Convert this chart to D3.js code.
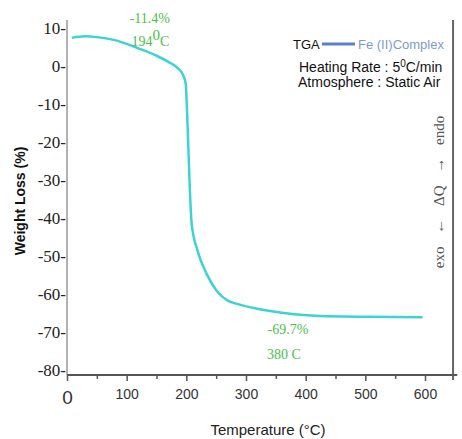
<!DOCTYPE html>
<html>
<head>
<meta charset="utf-8">
<script src="https://cdn.jsdelivr.net/npm/d3@7"></script>
<style>
body { margin: 0; background: #fff; }
svg { display: block; }
</style>
</head>
<body>
<div id="chart"></div>
<script>
// TGA curve of the Fe(II) complex
var temps   = [8, 30, 50, 80, 122, 150, 172, 186, 194, 199, 201, 203, 206, 209, 219, 234, 251, 270, 285, 340, 424, 500, 596];
var weights = [7.4, 7.8, 7.6, 6.8, 4.5, 2.7, 0.9, -0.6, -2.2, -4.7, -11.1, -19.7, -32.9, -41.6, -48.7, -54.7, -59.2, -61.8, -62.6, -64.5, -65.8, -66.0, -66.1];

var xTicks = [0, 100, 200, 300, 400, 500, 600];
var yTicks = [10, 0, -10, -20, -30, -40, -50, -60, -70, -80];
var notes = ["-11.4%", "194", "-69.7%", "380  C"];
var legendLines = ["Heating Rate : 5", "C/min", "Atmosphere : Static Air"];

var size = {w: 462, h: 439};
var curveColor = "#3ed3d3";
var green = "#4dbd4d";

var svg = d3.select("#chart")
	.append("svg")
	.attr("width", size.w)
	.attr("height", size.h);

var x = d3.scaleLinear().domain([0, 600]).range([67, 425]);
var y = d3.scaleLinear().domain([-80, 10]).range([370, 28]);

// frame lines
svg.append("line")
	.attr("x1", x(0)).attr("x2", x(0))
	.attr("y1", y(12.1)).attr("y2", y(-81.3))
	.attr("stroke", "#999").attr("stroke-width", 1.5);

svg.append("line")
	.attr("x1", x(647)).attr("x2", x(647))
	.attr("y1", y(12.1)).attr("y2", y(-82.6))
	.attr("stroke", "#666").attr("stroke-width", 2);

// y axis, labels carry their own dash
var yAxis = svg.append("g")
	.attr("transform", "translate(" + x(0) + ",0)")
	.call(d3.axisLeft(y).tickValues(yTicks).tickSize(0).tickPadding(1).tickFormat(function(d) { return d + "-"; }));
yAxis.select(".domain").remove();
yAxis.selectAll("text")
	.attr("font-family", "Liberation Serif, Times New Roman, serif")
	.attr("font-size", 17)
	.attr("fill", "#222");

// x axis
var xAxis = svg.append("g")
	.attr("transform", "translate(0," + y(-81.3) + ")")
	.call(d3.axisBottom(x).tickValues(d3.range(0, 650, 50)).tickSize(6).tickPadding(6)
		.tickFormat(function(d) { return xTicks.indexOf(d) >= 0 ? d : ""; }));
xAxis.select(".domain").remove();
xAxis.append("line")
	.attr("x1", x(0)).attr("x2", x(654))
	.attr("stroke", "#555").attr("stroke-width", 2);
xAxis.selectAll(".tick line")
	.attr("stroke", "#555").attr("stroke-width", 1.5)
	.attr("y2", function(d) { return d % 100 == 0 ? 6 : 4; });
xAxis.selectAll(".tick text")
	.attr("font-family", "Liberation Sans, Arial, sans-serif")
	.attr("font-size", function(d) { return d == 0 ? 19 : 14; })
	.attr("fill", "#333")
	.attr("dy", function(d) { return d == 0 ? "0.9em" : "0.85em"; });

// axis titles
svg.append("text")
	.attr("x", 268).attr("y", 435)
	.attr("text-anchor", "middle")
	.attr("font-family", "Liberation Sans, Arial, sans-serif")
	.attr("font-size", 15)
	.attr("fill", "#222")
	.text("Temperature (\u00B0C)");

svg.append("text")
	.attr("transform", "translate(25,201) rotate(-90)")
	.attr("text-anchor", "middle")
	.attr("font-family", "Liberation Sans, Arial, sans-serif")
	.attr("font-weight", "bold")
	.attr("font-size", 14)
	.attr("fill", "#111")
	.text("Weight Loss (%)");

svg.append("text")
	.attr("transform", "translate(444,192) rotate(-90)")
	.attr("text-anchor", "middle")
	.attr("font-family", "Liberation Serif, Times New Roman, serif")
	.attr("font-size", 15)
	.attr("fill", "#555")
	.attr("word-spacing", 9)
	.text("exo \u2190 \u0394Q \u2192 endo");

// curve
var pts = temps.map(function(t, i) { return [t, weights[i]]; });
var line = d3.line()
	.x(function(d) { return x(d[0]); })
	.y(function(d) { return y(d[1]); })
	.curve(d3.curveMonotoneX);

svg.append("path")
	.datum(pts)
	.attr("d", line)
	.attr("fill", "none")
	.attr("stroke", curveColor)
	.attr("stroke-width", 2.5);

// green notes
var noteFont = "Liberation Serif, Times New Roman, serif";
function note(tx, wy, str) {
	return svg.append("text")
		.attr("x", x(tx)).attr("y", y(wy))
		.attr("font-family", noteFont)
		.attr("font-size", 14)
		.attr("fill", green)
		.text(str);
}
note(105, 11.2, notes[0]);
var n2 = note(108, 5.3, notes[1]);
n2.append("tspan").attr("dy", -6).attr("font-size", 15).text("0");
n2.append("tspan").attr("dy", 6).text("C");
note(336, -70.5, notes[2]);
note(335, -77.2, notes[3]);

// legend
var lg = svg.append("g");
lg.append("text")
	.attr("x", 293).attr("y", 49)
	.attr("font-family", "Liberation Sans, Arial, sans-serif")
	.attr("font-size", 13).attr("fill", "#111")
	.text("TGA");
lg.append("line")
	.attr("x1", 322).attr("x2", 355).attr("y1", 44).attr("y2", 44)
	.attr("stroke", "#5b7fcf").attr("stroke-width", 3);
lg.append("text")
	.attr("x", 358).attr("y", 49)
	.attr("font-family", "Liberation Sans, Arial, sans-serif")
	.attr("font-size", 13).attr("fill", "#7d9bd3")
	.text("Fe (II)Complex");
var l1 = lg.append("text")
	.attr("x", 299).attr("y", 72)
	.attr("font-family", "Liberation Sans, Arial, sans-serif")
	.attr("font-size", 14).attr("fill", "#111")
	.text(legendLines[0]);
l1.append("tspan").attr("dy", -5).attr("font-size", 10).text("0");
l1.append("tspan").attr("dy", 5).text(legendLines[1]);
lg.append("text")
	.attr("x", 298).attr("y", 87)
	.attr("font-family", "Liberation Sans, Arial, sans-serif")
	.attr("font-size", 14).attr("fill", "#111")
	.text(legendLines[2]);
</script>
</body>
</html>
